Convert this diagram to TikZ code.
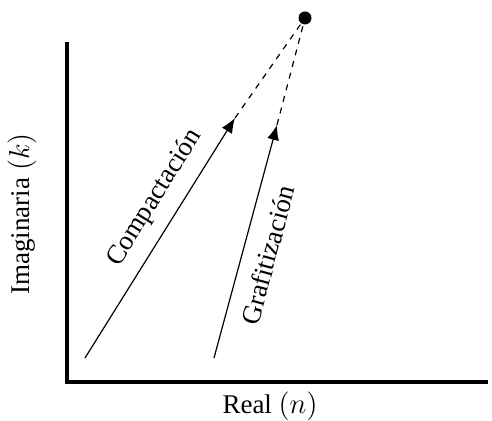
\documentclass[tikz,border=0pt]{standalone}
\usepackage{fontspec}
\setmainfont{Liberation Serif}
\usepackage{tikz}
\usetikzlibrary{arrows.meta, positioning, calc}

\begin{document}
\begin{tikzpicture}[x=0.5pt, y=-0.5pt, font=\fontsize{13.5}{16}\selectfont]
    \tikzstyle{axis} = [draw, line width=1.6pt]
    \tikzstyle{path} = [draw, -{Latex[length=7.5pt,width=6pt]}, line width=0.6pt]
    \tikzstyle{link} = [draw, dashed, line width=0.6pt]
    \tikzstyle{point} = [circle, fill, inner sep=0pt, minimum size=6.5pt]

    \useasboundingbox (0,0) rectangle (492,421);

    \coordinate (top) at (67,42);
    \coordinate (origin) at (67,382);
    \coordinate (right) at (488,382);
    \node [point] (target) at (305,18) {};

    \coordinate (compStart) at (85,358);
    \coordinate (compEnd) at (235,118);
    \coordinate (grafStart) at (214,358);
    \coordinate (grafEnd) at (277,125);

    \path [axis] (top) -- (origin) -- (right);
    \node (xlabel) at (270,406) {Real $(n)$};
    \node [rotate=90] (ylabel) at (22,214) {Imaginaria $(k)$};

    \path [path] (compStart) -- node [sloped, above=3pt, pos=0.61] (comp) {Compactación} (compEnd);
    \path [path] (grafStart) -- node [sloped, below=4pt, pos=0.47] (graf) {Grafitización} (grafEnd);
    \path [link] (compEnd) -- (target);
    \path [link] (grafEnd) -- (target);
\end{tikzpicture}
\end{document}
